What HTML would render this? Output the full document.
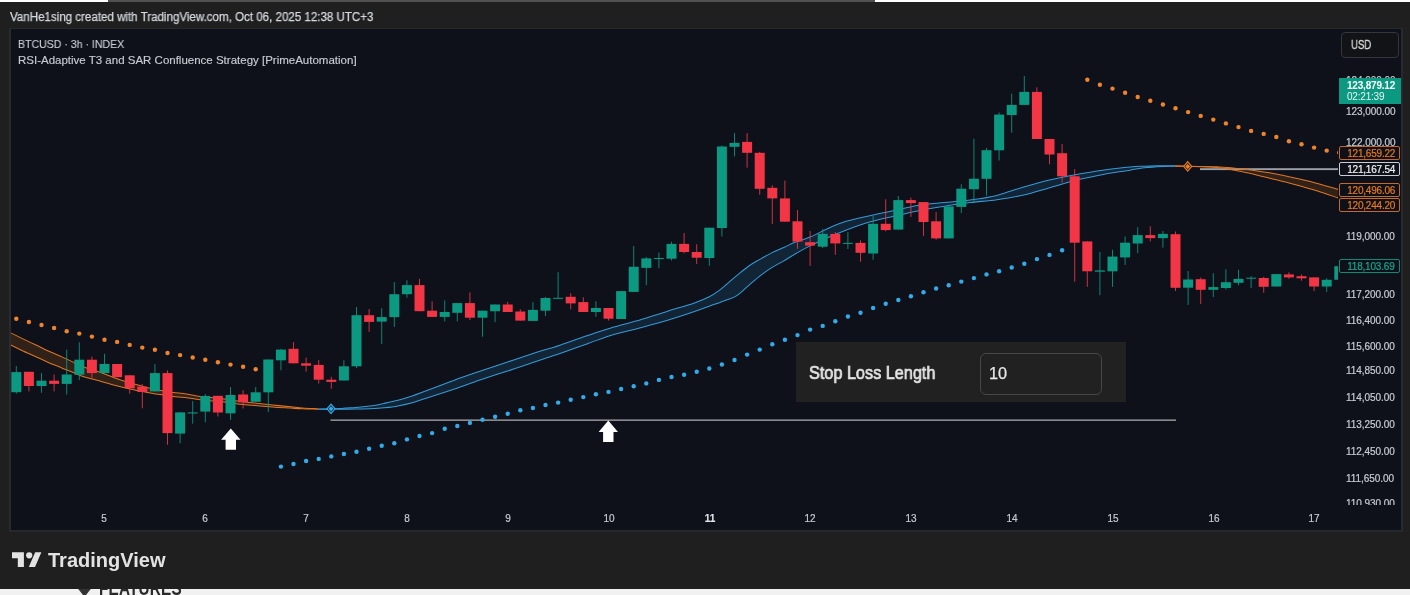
<!DOCTYPE html>
<html><head><meta charset="utf-8"><title>chart</title>
<style>
html,body{margin:0;padding:0;}
body{width:1410px;height:595px;overflow:hidden;background:#1f1f1f;position:relative;font-family:"Liberation Sans",sans-serif;}
.abs{position:absolute;}
#hdr,.lg,.pl,.dl,.box,#cur b,#cur i,#sl .t,#sl .in span,#tvt,#feat{will-change:transform;}
#topw1{left:0;top:0;width:108px;height:2px;background:#fff;}
#topg{left:108px;top:0;width:767px;height:2px;background:#505050;}
#topw2{left:875px;top:0;width:535px;height:2px;background:#fff;}
#hdr{left:10px;top:9.2px;font-size:12px;line-height:16px;color:#d6d8de;-webkit-text-stroke:0.25px #d6d8de;white-space:nowrap;transform-origin:0 50%;transform:scaleX(0.963);}
#chart{left:9px;top:28px;width:1390px;height:501px;background:#0e111a;border-right:2px solid #27292d;border-bottom:2px solid #26282c;border-top:1px solid #27292e;border-left:2px solid #292b2e;box-sizing:content-box;overflow:hidden;}
#plot{left:0;top:0;width:1338px;height:595px;overflow:hidden;}
.lg{left:18px;font-size:11.5px;line-height:14px;color:#c8cbd2;-webkit-text-stroke:0.15px #c8cbd2;white-space:nowrap;transform-origin:0 50%;}
.pl{position:absolute;left:1346.2px;width:48px;font-size:10px;line-height:12px;color:#c8cbd2;white-space:nowrap;letter-spacing:-0.05px;-webkit-text-stroke:0.2px #c8cbd2;}
.dl{position:absolute;top:513px;-webkit-text-stroke:0.2px #c8cbd2;width:40px;text-align:center;font-size:10px;line-height:12px;color:#c5c8d0;}
.dl.b{font-weight:bold;color:#e4e6ea;}
.box{position:absolute;left:1339px;width:60px;height:11.4px;padding-top:1.1px;border:1px solid;font-size:10px;line-height:12.7px;letter-spacing:-0.2px;padding-left:7.2px;box-sizing:content-box;width:51.4px;border-radius:2px;-webkit-text-stroke:0.2px;background:#0e111a;white-space:nowrap;}
#usd{left:1341.3px;top:32px;width:55.7px;height:23.5px;border:1px solid #33363d;border-radius:4px;background:#121316;color:#dadada;font-size:12px;line-height:24px;box-sizing:content-box;-webkit-text-stroke:0.3px #dadada;}
#usd span{position:absolute;left:8.9px;top:-0.3px;transform-origin:0 50%;transform:scaleX(0.80);will-change:transform;}
#cur{left:1339px;top:78px;width:61.5px;height:26.4px;background:#0b9981;color:#fff;font-size:10px;letter-spacing:-0.2px;}
#cur b{position:absolute;left:7.5px;top:1.9px;line-height:12px;}
#cur i{position:absolute;left:7.5px;top:13.3px;line-height:12px;font-style:normal;color:#e9f6f3;}
#sl{left:796px;top:341.5px;width:330px;height:60px;background:#212121;}
#sl .t{position:absolute;left:12.7px;top:21.6px;font-size:18.3px;line-height:20px;color:#e4e4e4;-webkit-text-stroke:0.7px #e4e4e4;white-space:nowrap;transform-origin:0 50%;transform:scaleX(0.888);}
#sl .in{position:absolute;left:184px;top:11.4px;width:120px;height:40px;border:1px solid #474747;border-radius:6px;box-sizing:content-box;}
#sl .in span{position:absolute;left:8.4px;top:9.6px;font-size:16.3px;line-height:20px;color:#e6e6e6;-webkit-text-stroke:0.25px #e6e6e6;}
#foot{left:0;top:532px;width:1410px;height:56.5px;background:#1f1f1f;}
#strip{left:0;top:588.5px;width:1410px;height:7px;background:#f1f1f1;overflow:hidden;}
#feat{letter-spacing:0.2px;left:99px;top:-7.7px;transform:scaleY(1.35);transform-origin:0 14.3px;font-size:15.3px;line-height:18px;font-weight:bold;color:#2a2a2a;white-space:nowrap;}
#tvt{left:48px;top:547.5px;font-size:20px;line-height:24px;font-weight:bold;color:#e3e3e3;white-space:nowrap;transform-origin:0 50%;}
</style></head><body>
<div class="abs" id="chart"></div>
<div class="abs" id="plot"><svg width="1338" height="595" viewBox="0 0 1338 595" style="position:absolute;left:0;top:0">
<defs><clipPath id="cp"><rect x="11" y="29" width="1327" height="476"/></clipPath></defs>
<g clip-path="url(#cp)">
<rect x="330.5" y="419.55" width="845.5" height="1.15" fill="#bcbcbf"/>
<rect x="1200" y="168.2" width="138.5" height="1.9" fill="#9d9fa8"/>
<path d="M10.0,332.5 C11.9,333.4 17.2,336.1 21.4,338.1 C25.5,340.1 30.4,342.4 34.9,344.5 C39.4,346.6 43.8,349.0 48.3,351.1 C52.8,353.1 57.8,355.0 61.8,356.9 C65.8,358.7 68.8,360.1 72.6,361.9 C76.4,363.6 79.8,365.4 84.7,367.3 C89.6,369.2 96.9,371.3 102.1,373.1 C107.2,374.9 111.1,376.6 115.6,378.2 C120.1,379.8 124.5,381.2 129.0,382.6 C133.5,383.9 138.0,385.2 142.5,386.4 C147.0,387.6 151.4,388.6 155.9,389.5 C160.4,390.4 164.0,391.3 169.4,392.1 C174.8,392.8 183.0,393.5 188.1,394.2 C193.2,395.0 194.1,395.7 200.1,396.5 C206.1,397.3 218.1,398.2 224.3,399.0 C230.5,399.8 232.5,400.5 237.5,401.1 C242.5,401.8 248.6,402.5 254.4,403.1 C260.2,403.7 266.5,404.4 272.5,405.0 C278.5,405.6 285.6,406.2 290.6,406.7 C295.6,407.2 298.0,407.6 302.6,407.9 C307.2,408.3 315.7,408.7 318.3,408.9 L318.3,409.2 C315.7,409.1 307.2,409.0 302.6,408.8 C298.0,408.6 295.6,408.4 290.6,408.1 C285.6,407.8 278.5,407.5 272.5,407.0 C266.5,406.6 260.2,406.1 254.4,405.5 C248.6,405.0 242.5,404.5 237.5,403.9 C232.5,403.3 230.5,402.6 224.3,402.0 C218.1,401.3 206.1,400.4 200.1,399.8 C194.1,399.1 193.2,398.5 188.1,397.9 C183.0,397.2 174.8,396.7 169.4,396.0 C164.0,395.3 160.4,394.6 155.9,393.9 C151.4,393.1 147.0,392.4 142.5,391.5 C138.0,390.6 133.5,389.7 129.0,388.7 C124.5,387.7 120.1,386.7 115.6,385.5 C111.1,384.3 107.2,383.1 102.1,381.7 C96.9,380.2 89.6,378.5 84.7,377.0 C79.8,375.4 76.4,373.8 72.6,372.3 C68.8,370.8 65.8,369.5 61.8,367.9 C57.8,366.2 52.8,364.4 48.3,362.5 C43.8,360.5 39.4,358.3 34.9,356.2 C30.4,354.2 25.5,352.1 21.4,350.2 C17.2,348.2 11.9,345.5 10.0,344.6 Z" fill="rgba(232,119,26,0.16)" stroke="none"/>
<path d="M10.0,332.5 C11.9,333.4 17.2,336.1 21.4,338.1 C25.5,340.1 30.4,342.4 34.9,344.5 C39.4,346.6 43.8,349.0 48.3,351.1 C52.8,353.1 57.8,355.0 61.8,356.9 C65.8,358.7 68.8,360.1 72.6,361.9 C76.4,363.6 79.8,365.4 84.7,367.3 C89.6,369.2 96.9,371.3 102.1,373.1 C107.2,374.9 111.1,376.6 115.6,378.2 C120.1,379.8 124.5,381.2 129.0,382.6 C133.5,383.9 138.0,385.2 142.5,386.4 C147.0,387.6 151.4,388.6 155.9,389.5 C160.4,390.4 164.0,391.3 169.4,392.1 C174.8,392.8 183.0,393.5 188.1,394.2 C193.2,395.0 194.1,395.7 200.1,396.5 C206.1,397.3 218.1,398.2 224.3,399.0 C230.5,399.8 232.5,400.5 237.5,401.1 C242.5,401.8 248.6,402.5 254.4,403.1 C260.2,403.7 266.5,404.4 272.5,405.0 C278.5,405.6 285.6,406.2 290.6,406.7 C295.6,407.2 298.0,407.6 302.6,407.9 C307.2,408.3 315.7,408.7 318.3,408.9" fill="none" stroke="#e07623" stroke-width="1.05"/>
<path d="M10.0,344.6 C11.9,345.5 17.2,348.2 21.4,350.2 C25.5,352.1 30.4,354.2 34.9,356.2 C39.4,358.3 43.8,360.5 48.3,362.5 C52.8,364.4 57.8,366.2 61.8,367.9 C65.8,369.5 68.8,370.8 72.6,372.3 C76.4,373.8 79.8,375.4 84.7,377.0 C89.6,378.5 96.9,380.2 102.1,381.7 C107.2,383.1 111.1,384.3 115.6,385.5 C120.1,386.7 124.5,387.7 129.0,388.7 C133.5,389.7 138.0,390.6 142.5,391.5 C147.0,392.4 151.4,393.1 155.9,393.9 C160.4,394.6 164.0,395.3 169.4,396.0 C174.8,396.7 183.0,397.2 188.1,397.9 C193.2,398.5 194.1,399.1 200.1,399.8 C206.1,400.4 218.1,401.3 224.3,402.0 C230.5,402.6 232.5,403.3 237.5,403.9 C242.5,404.5 248.6,405.0 254.4,405.5 C260.2,406.1 266.5,406.6 272.5,407.0 C278.5,407.5 285.6,407.8 290.6,408.1 C295.6,408.4 298.0,408.6 302.6,408.8 C307.2,409.0 315.7,409.1 318.3,409.2" fill="none" stroke="#e07623" stroke-width="1.05"/>

<path d="M318.3,408.9 C321.1,408.9 328.8,409.0 335.0,408.8 C341.2,408.6 349.7,407.9 355.5,407.5 C361.3,407.1 364.9,406.8 369.6,406.1 C374.3,405.4 379.1,404.4 383.8,403.4 C388.5,402.4 393.3,401.4 398.0,400.2 C402.7,399.0 407.4,397.6 412.2,396.0 C417.0,394.4 420.0,393.1 426.9,390.5 C433.8,387.9 444.8,383.6 453.8,380.4 C462.8,377.1 471.7,374.1 480.7,371.0 C489.7,367.9 498.6,365.0 507.6,362.0 C516.6,359.0 525.8,355.9 534.5,353.1 C543.2,350.3 551.3,348.1 560.0,345.2 C568.7,342.3 577.9,338.8 586.9,335.8 C595.9,332.8 604.8,329.8 613.8,327.1 C622.8,324.4 631.7,322.4 640.7,319.7 C649.7,317.0 658.6,314.0 667.6,311.2 C676.6,308.4 687.6,305.3 694.5,302.9 C701.4,300.5 705.0,299.0 709.2,296.8 C713.5,294.6 717.4,291.7 720.0,289.8 C722.6,287.9 722.2,288.0 725.0,285.6 C727.8,283.2 732.9,278.8 736.8,275.6 C740.7,272.4 744.6,268.9 748.5,266.2 C752.4,263.4 756.4,261.4 760.3,259.1 C764.2,256.8 768.2,254.6 772.1,252.6 C776.0,250.6 779.9,249.2 783.8,247.4 C787.7,245.7 791.2,243.8 795.6,242.1 C800.0,240.4 803.1,240.0 810.0,237.1 C816.9,234.2 827.9,227.8 836.9,224.4 C845.9,221.1 854.8,219.2 863.8,217.0 C872.8,214.8 881.7,213.1 890.7,211.2 C899.7,209.3 908.6,206.9 917.6,205.5 C926.6,204.1 935.8,203.5 944.5,202.6 C953.2,201.7 961.3,201.2 970.0,200.0 C978.7,198.8 987.9,197.6 996.9,195.4 C1005.9,193.2 1014.8,189.6 1023.8,187.0 C1032.8,184.4 1041.7,181.9 1050.7,179.8 C1059.7,177.7 1068.6,175.8 1077.6,174.2 C1086.6,172.5 1095.8,171.1 1104.5,169.9 C1113.2,168.7 1123.4,167.5 1130.0,166.9 C1136.6,166.3 1138.9,166.4 1144.3,166.2 C1149.7,166.0 1157.2,165.9 1162.3,165.8 C1167.4,165.7 1172.9,165.8 1175.0,165.8 L1175.0,166.2 C1172.9,166.2 1167.4,166.1 1162.3,166.4 C1157.2,166.7 1149.7,167.2 1144.3,167.8 C1138.9,168.4 1136.6,169.1 1130.0,170.2 C1123.4,171.3 1113.2,172.6 1104.5,174.2 C1095.8,175.8 1086.6,177.6 1077.6,179.8 C1068.6,182.0 1059.7,184.9 1050.7,187.4 C1041.7,189.9 1032.8,192.9 1023.8,195.0 C1014.8,197.1 1005.9,198.4 996.9,199.7 C987.9,201.0 978.7,201.5 970.0,202.6 C961.3,203.7 953.2,204.8 944.5,206.2 C935.8,207.6 926.6,209.1 917.6,210.9 C908.6,212.7 899.7,214.9 890.7,217.0 C881.7,219.1 872.8,220.9 863.8,223.7 C854.8,226.5 845.9,230.1 836.9,233.8 C827.9,237.5 816.9,242.6 810.0,245.9 C803.1,249.2 800.0,251.3 795.6,253.8 C791.2,256.3 787.7,258.6 783.8,260.9 C779.9,263.2 776.0,264.9 772.1,267.4 C768.2,269.8 764.2,272.6 760.3,275.6 C756.4,278.6 752.4,282.3 748.5,285.6 C744.6,288.9 740.4,293.2 736.8,295.6 C733.2,298.0 729.8,298.7 727.0,299.8 C724.2,300.9 722.7,301.4 720.0,302.4 C717.3,303.4 715.2,304.1 711.0,305.6 C706.8,307.1 701.7,309.2 694.5,311.6 C687.3,314.1 676.6,317.6 667.6,320.3 C658.6,323.0 649.7,325.3 640.7,327.7 C631.7,330.1 622.8,331.8 613.8,334.5 C604.8,337.2 595.9,340.8 586.9,343.9 C577.9,347.0 568.7,350.4 560.0,353.4 C551.3,356.4 543.2,359.1 534.5,362.0 C525.8,364.9 516.6,368.1 507.6,371.0 C498.6,373.9 489.7,376.7 480.7,379.7 C471.7,382.7 462.8,386.2 453.8,389.2 C444.8,392.2 433.8,395.6 426.9,397.9 C420.0,400.1 417.0,401.4 412.2,402.7 C407.4,404.0 402.7,405.0 398.0,405.9 C393.3,406.8 388.5,407.3 383.8,407.8 C379.1,408.3 374.3,408.5 369.6,408.7 C364.9,408.9 361.3,409.0 355.5,409.1 C349.7,409.2 341.2,409.1 335.0,409.1 C328.8,409.1 321.1,409.2 318.3,409.2 Z" fill="rgba(47,155,220,0.15)" stroke="none"/>
<path d="M318.3,408.9 C321.1,408.9 328.8,409.0 335.0,408.8 C341.2,408.6 349.7,407.9 355.5,407.5 C361.3,407.1 364.9,406.8 369.6,406.1 C374.3,405.4 379.1,404.4 383.8,403.4 C388.5,402.4 393.3,401.4 398.0,400.2 C402.7,399.0 407.4,397.6 412.2,396.0 C417.0,394.4 420.0,393.1 426.9,390.5 C433.8,387.9 444.8,383.6 453.8,380.4 C462.8,377.1 471.7,374.1 480.7,371.0 C489.7,367.9 498.6,365.0 507.6,362.0 C516.6,359.0 525.8,355.9 534.5,353.1 C543.2,350.3 551.3,348.1 560.0,345.2 C568.7,342.3 577.9,338.8 586.9,335.8 C595.9,332.8 604.8,329.8 613.8,327.1 C622.8,324.4 631.7,322.4 640.7,319.7 C649.7,317.0 658.6,314.0 667.6,311.2 C676.6,308.4 687.6,305.3 694.5,302.9 C701.4,300.5 705.0,299.0 709.2,296.8 C713.5,294.6 717.4,291.7 720.0,289.8 C722.6,287.9 722.2,288.0 725.0,285.6 C727.8,283.2 732.9,278.8 736.8,275.6 C740.7,272.4 744.6,268.9 748.5,266.2 C752.4,263.4 756.4,261.4 760.3,259.1 C764.2,256.8 768.2,254.6 772.1,252.6 C776.0,250.6 779.9,249.2 783.8,247.4 C787.7,245.7 791.2,243.8 795.6,242.1 C800.0,240.4 803.1,240.0 810.0,237.1 C816.9,234.2 827.9,227.8 836.9,224.4 C845.9,221.1 854.8,219.2 863.8,217.0 C872.8,214.8 881.7,213.1 890.7,211.2 C899.7,209.3 908.6,206.9 917.6,205.5 C926.6,204.1 935.8,203.5 944.5,202.6 C953.2,201.7 961.3,201.2 970.0,200.0 C978.7,198.8 987.9,197.6 996.9,195.4 C1005.9,193.2 1014.8,189.6 1023.8,187.0 C1032.8,184.4 1041.7,181.9 1050.7,179.8 C1059.7,177.7 1068.6,175.8 1077.6,174.2 C1086.6,172.5 1095.8,171.1 1104.5,169.9 C1113.2,168.7 1123.4,167.5 1130.0,166.9 C1136.6,166.3 1138.9,166.4 1144.3,166.2 C1149.7,166.0 1157.2,165.9 1162.3,165.8 C1167.4,165.7 1172.9,165.8 1175.0,165.8" fill="none" stroke="#369ad6" stroke-width="1.05"/>
<path d="M318.3,409.2 C321.1,409.2 328.8,409.1 335.0,409.1 C341.2,409.1 349.7,409.2 355.5,409.1 C361.3,409.0 364.9,408.9 369.6,408.7 C374.3,408.5 379.1,408.3 383.8,407.8 C388.5,407.3 393.3,406.8 398.0,405.9 C402.7,405.0 407.4,404.0 412.2,402.7 C417.0,401.4 420.0,400.1 426.9,397.9 C433.8,395.6 444.8,392.2 453.8,389.2 C462.8,386.2 471.7,382.7 480.7,379.7 C489.7,376.7 498.6,373.9 507.6,371.0 C516.6,368.1 525.8,364.9 534.5,362.0 C543.2,359.1 551.3,356.4 560.0,353.4 C568.7,350.4 577.9,347.0 586.9,343.9 C595.9,340.8 604.8,337.2 613.8,334.5 C622.8,331.8 631.7,330.1 640.7,327.7 C649.7,325.3 658.6,323.0 667.6,320.3 C676.6,317.6 687.3,314.1 694.5,311.6 C701.7,309.2 706.8,307.1 711.0,305.6 C715.2,304.1 717.3,303.4 720.0,302.4 C722.7,301.4 724.2,300.9 727.0,299.8 C729.8,298.7 733.2,298.0 736.8,295.6 C740.4,293.2 744.6,288.9 748.5,285.6 C752.4,282.3 756.4,278.6 760.3,275.6 C764.2,272.6 768.2,269.8 772.1,267.4 C776.0,264.9 779.9,263.2 783.8,260.9 C787.7,258.6 791.2,256.3 795.6,253.8 C800.0,251.3 803.1,249.2 810.0,245.9 C816.9,242.6 827.9,237.5 836.9,233.8 C845.9,230.1 854.8,226.5 863.8,223.7 C872.8,220.9 881.7,219.1 890.7,217.0 C899.7,214.9 908.6,212.7 917.6,210.9 C926.6,209.1 935.8,207.6 944.5,206.2 C953.2,204.8 961.3,203.7 970.0,202.6 C978.7,201.5 987.9,201.0 996.9,199.7 C1005.9,198.4 1014.8,197.1 1023.8,195.0 C1032.8,192.9 1041.7,189.9 1050.7,187.4 C1059.7,184.9 1068.6,182.0 1077.6,179.8 C1086.6,177.6 1095.8,175.8 1104.5,174.2 C1113.2,172.6 1123.4,171.3 1130.0,170.2 C1136.6,169.1 1138.9,168.4 1144.3,167.8 C1149.7,167.2 1157.2,166.7 1162.3,166.4 C1167.4,166.1 1172.9,166.2 1175.0,166.2" fill="none" stroke="#369ad6" stroke-width="1.05"/>

<path d="M1175.0,165.8 C1177.1,165.9 1180.8,166.2 1187.7,166.3 C1194.6,166.5 1208.8,166.4 1216.6,166.7 C1224.4,167.0 1228.7,167.6 1234.7,168.2 C1240.7,168.8 1246.8,169.5 1252.8,170.3 C1258.8,171.1 1264.9,171.9 1270.9,173.0 C1276.9,174.1 1283.0,175.4 1289.0,176.7 C1295.0,178.0 1301.0,179.3 1307.0,180.8 C1313.0,182.3 1319.9,184.3 1325.1,185.7 C1330.3,187.1 1335.8,188.8 1338.0,189.4 L1338.0,197.9 C1335.8,197.2 1330.3,195.2 1325.1,193.5 C1319.9,191.8 1313.0,189.8 1307.0,188.0 C1301.0,186.2 1295.0,184.6 1289.0,183.0 C1283.0,181.4 1276.9,180.0 1270.9,178.5 C1264.9,177.0 1258.8,175.3 1252.8,173.9 C1246.8,172.5 1240.7,171.4 1234.7,170.3 C1228.7,169.2 1224.4,168.1 1216.6,167.4 C1208.8,166.7 1194.6,166.5 1187.7,166.3 C1180.8,166.1 1177.1,166.2 1175.0,166.2 Z" fill="rgba(232,119,26,0.16)" stroke="none"/>
<path d="M1175.0,165.8 C1177.1,165.9 1180.8,166.2 1187.7,166.3 C1194.6,166.5 1208.8,166.4 1216.6,166.7 C1224.4,167.0 1228.7,167.6 1234.7,168.2 C1240.7,168.8 1246.8,169.5 1252.8,170.3 C1258.8,171.1 1264.9,171.9 1270.9,173.0 C1276.9,174.1 1283.0,175.4 1289.0,176.7 C1295.0,178.0 1301.0,179.3 1307.0,180.8 C1313.0,182.3 1319.9,184.3 1325.1,185.7 C1330.3,187.1 1335.8,188.8 1338.0,189.4" fill="none" stroke="#e07623" stroke-width="1.05"/>
<path d="M1175.0,166.2 C1177.1,166.2 1180.8,166.1 1187.7,166.3 C1194.6,166.5 1208.8,166.7 1216.6,167.4 C1224.4,168.1 1228.7,169.2 1234.7,170.3 C1240.7,171.4 1246.8,172.5 1252.8,173.9 C1258.8,175.3 1264.9,177.0 1270.9,178.5 C1276.9,180.0 1283.0,181.4 1289.0,183.0 C1295.0,184.6 1301.0,186.2 1307.0,188.0 C1313.0,189.8 1319.9,191.8 1325.1,193.5 C1330.3,195.2 1335.8,197.2 1338.0,197.9" fill="none" stroke="#e07623" stroke-width="1.05"/>

<rect x="15.8" y="366.1" width="1" height="27.5" fill="#0b9981" opacity="0.85"/>
<rect x="11.3" y="372.1" width="10.0" height="20.1" fill="#0b9981"/>
<rect x="28.4" y="371.8" width="1" height="19.6" fill="#f23645" opacity="0.85"/>
<rect x="23.9" y="371.8" width="10.0" height="14.2" fill="#f23645"/>
<rect x="41.0" y="373.1" width="1" height="19.7" fill="#0b9981" opacity="0.85"/>
<rect x="36.5" y="380.7" width="10.0" height="5.3" fill="#0b9981"/>
<rect x="53.6" y="374.5" width="1" height="16.9" fill="#f23645" opacity="0.85"/>
<rect x="49.1" y="380.7" width="10.0" height="3.2" fill="#f23645"/>
<rect x="66.2" y="349.7" width="1" height="44.9" fill="#0b9981" opacity="0.85"/>
<rect x="61.7" y="374.5" width="10.0" height="9.4" fill="#0b9981"/>
<rect x="78.8" y="342.2" width="1" height="37.9" fill="#0b9981" opacity="0.85"/>
<rect x="74.3" y="359.7" width="10.0" height="15.0" fill="#0b9981"/>
<rect x="91.4" y="356.5" width="1" height="21.5" fill="#f23645" opacity="0.85"/>
<rect x="86.9" y="359.7" width="10.0" height="13.4" fill="#f23645"/>
<rect x="104.0" y="353.8" width="1" height="19.3" fill="#0b9981" opacity="0.85"/>
<rect x="99.5" y="364.0" width="10.0" height="9.1" fill="#0b9981"/>
<rect x="116.6" y="364.0" width="1" height="13.2" fill="#f23645" opacity="0.85"/>
<rect x="112.1" y="364.0" width="10.0" height="13.2" fill="#f23645"/>
<rect x="129.2" y="375.3" width="1" height="18.3" fill="#f23645" opacity="0.85"/>
<rect x="124.7" y="375.3" width="10.0" height="12.9" fill="#f23645"/>
<rect x="141.8" y="383.9" width="1" height="24.5" fill="#f23645" opacity="0.85"/>
<rect x="137.3" y="386.6" width="10.0" height="5.4" fill="#f23645"/>
<rect x="154.4" y="364.0" width="1" height="27.4" fill="#0b9981" opacity="0.85"/>
<rect x="149.9" y="373.1" width="10.0" height="18.3" fill="#0b9981"/>
<rect x="167.0" y="370.4" width="1" height="74.3" fill="#f23645" opacity="0.85"/>
<rect x="162.5" y="373.1" width="10.0" height="60.0" fill="#f23645"/>
<rect x="179.6" y="412.4" width="1" height="30.9" fill="#0b9981" opacity="0.85"/>
<rect x="175.1" y="412.4" width="10.0" height="21.2" fill="#0b9981"/>
<rect x="192.2" y="401.1" width="1" height="22.6" fill="#0b9981" opacity="0.85"/>
<rect x="187.7" y="412.4" width="10.0" height="1.1" fill="#0b9981"/>
<rect x="204.8" y="394.0" width="1" height="28.3" fill="#0b9981" opacity="0.85"/>
<rect x="200.3" y="396.0" width="10.0" height="15.6" fill="#0b9981"/>
<rect x="217.4" y="395.8" width="1" height="20.7" fill="#f23645" opacity="0.85"/>
<rect x="212.9" y="395.8" width="10.0" height="16.7" fill="#f23645"/>
<rect x="230.0" y="387.0" width="1" height="32.8" fill="#0b9981" opacity="0.85"/>
<rect x="225.5" y="395.0" width="10.0" height="18.3" fill="#0b9981"/>
<rect x="242.6" y="390.2" width="1" height="18.3" fill="#f23645" opacity="0.85"/>
<rect x="238.1" y="394.5" width="10.0" height="7.8" fill="#f23645"/>
<rect x="255.2" y="387.0" width="1" height="14.8" fill="#0b9981" opacity="0.85"/>
<rect x="250.7" y="392.3" width="10.0" height="9.5" fill="#0b9981"/>
<rect x="267.8" y="359.5" width="1" height="52.5" fill="#0b9981" opacity="0.85"/>
<rect x="263.3" y="359.5" width="10.0" height="32.8" fill="#0b9981"/>
<rect x="280.4" y="348.8" width="1" height="21.5" fill="#0b9981" opacity="0.85"/>
<rect x="275.9" y="349.6" width="10.0" height="10.7" fill="#0b9981"/>
<rect x="293.0" y="342.1" width="1" height="21.2" fill="#f23645" opacity="0.85"/>
<rect x="288.5" y="348.8" width="10.0" height="14.5" fill="#f23645"/>
<rect x="305.6" y="357.7" width="1" height="13.9" fill="#f23645" opacity="0.85"/>
<rect x="301.1" y="363.3" width="10.0" height="2.4" fill="#f23645"/>
<rect x="318.2" y="360.1" width="1" height="23.4" fill="#f23645" opacity="0.85"/>
<rect x="313.7" y="364.9" width="10.0" height="14.8" fill="#f23645"/>
<rect x="330.8" y="376.7" width="1" height="12.1" fill="#f23645" opacity="0.85"/>
<rect x="326.3" y="379.7" width="10.0" height="2.2" fill="#f23645"/>
<rect x="343.4" y="360.1" width="1" height="20.4" fill="#0b9981" opacity="0.85"/>
<rect x="338.9" y="366.3" width="10.0" height="14.2" fill="#0b9981"/>
<rect x="356.0" y="307.1" width="1" height="61.0" fill="#0b9981" opacity="0.85"/>
<rect x="351.5" y="315.2" width="10.0" height="51.1" fill="#0b9981"/>
<rect x="368.6" y="309.0" width="1" height="22.8" fill="#f23645" opacity="0.85"/>
<rect x="364.1" y="315.2" width="10.0" height="6.7" fill="#f23645"/>
<rect x="381.2" y="308.2" width="1" height="35.7" fill="#0b9981" opacity="0.85"/>
<rect x="376.7" y="317.1" width="10.0" height="4.5" fill="#0b9981"/>
<rect x="393.8" y="282.1" width="1" height="44.9" fill="#0b9981" opacity="0.85"/>
<rect x="389.3" y="294.2" width="10.0" height="22.9" fill="#0b9981"/>
<rect x="406.4" y="280.2" width="1" height="17.5" fill="#0b9981" opacity="0.85"/>
<rect x="401.9" y="285.1" width="10.0" height="9.1" fill="#0b9981"/>
<rect x="419.0" y="278.9" width="1" height="32.3" fill="#f23645" opacity="0.85"/>
<rect x="414.5" y="285.1" width="10.0" height="26.1" fill="#f23645"/>
<rect x="431.6" y="301.3" width="1" height="15.6" fill="#f23645" opacity="0.85"/>
<rect x="427.1" y="310.7" width="10.0" height="6.2" fill="#f23645"/>
<rect x="444.2" y="300.4" width="1" height="21.0" fill="#0b9981" opacity="0.85"/>
<rect x="439.7" y="312.0" width="10.0" height="4.9" fill="#0b9981"/>
<rect x="456.8" y="303.1" width="1" height="18.3" fill="#0b9981" opacity="0.85"/>
<rect x="452.3" y="303.1" width="10.0" height="9.7" fill="#0b9981"/>
<rect x="469.4" y="292.4" width="1" height="27.6" fill="#f23645" opacity="0.85"/>
<rect x="464.9" y="303.1" width="10.0" height="14.6" fill="#f23645"/>
<rect x="482.0" y="310.7" width="1" height="26.0" fill="#0b9981" opacity="0.85"/>
<rect x="477.5" y="310.7" width="10.0" height="7.0" fill="#0b9981"/>
<rect x="494.6" y="304.5" width="1" height="17.7" fill="#0b9981" opacity="0.85"/>
<rect x="490.1" y="304.5" width="10.0" height="6.7" fill="#0b9981"/>
<rect x="507.2" y="301.8" width="1" height="10.2" fill="#f23645" opacity="0.85"/>
<rect x="502.7" y="304.5" width="10.0" height="7.5" fill="#f23645"/>
<rect x="519.8" y="309.3" width="1" height="11.3" fill="#f23645" opacity="0.85"/>
<rect x="515.3" y="311.5" width="10.0" height="9.1" fill="#f23645"/>
<rect x="532.4" y="302.1" width="1" height="18.8" fill="#0b9981" opacity="0.85"/>
<rect x="527.9" y="309.9" width="10.0" height="11.0" fill="#0b9981"/>
<rect x="545.0" y="297.0" width="1" height="19.0" fill="#0b9981" opacity="0.85"/>
<rect x="540.5" y="298.0" width="10.0" height="12.7" fill="#0b9981"/>
<rect x="557.6" y="272.2" width="1" height="26.6" fill="#0b9981" opacity="0.85"/>
<rect x="553.1" y="297.8" width="10.0" height="1.0" fill="#0b9981"/>
<rect x="570.2" y="293.2" width="1" height="16.1" fill="#f23645" opacity="0.85"/>
<rect x="565.7" y="296.8" width="10.0" height="6.6" fill="#f23645"/>
<rect x="582.8" y="297.2" width="1" height="14.8" fill="#f23645" opacity="0.85"/>
<rect x="578.3" y="302.1" width="10.0" height="9.9" fill="#f23645"/>
<rect x="595.4" y="301.3" width="1" height="15.6" fill="#0b9981" opacity="0.85"/>
<rect x="590.9" y="308.0" width="10.0" height="4.0" fill="#0b9981"/>
<rect x="608.0" y="308.0" width="1" height="12.6" fill="#f23645" opacity="0.85"/>
<rect x="603.5" y="308.0" width="10.0" height="10.7" fill="#f23645"/>
<rect x="620.6" y="291.1" width="1" height="27.9" fill="#0b9981" opacity="0.85"/>
<rect x="616.1" y="291.1" width="10.0" height="27.9" fill="#0b9981"/>
<rect x="633.2" y="246.0" width="1" height="45.9" fill="#0b9981" opacity="0.85"/>
<rect x="628.7" y="266.8" width="10.0" height="25.1" fill="#0b9981"/>
<rect x="645.8" y="257.0" width="1" height="28.2" fill="#0b9981" opacity="0.85"/>
<rect x="641.3" y="258.4" width="10.0" height="9.5" fill="#0b9981"/>
<rect x="658.4" y="252.7" width="1" height="15.5" fill="#0b9981" opacity="0.85"/>
<rect x="653.9" y="258.0" width="10.0" height="1.0" fill="#0b9981"/>
<rect x="671.0" y="241.8" width="1" height="18.7" fill="#0b9981" opacity="0.85"/>
<rect x="666.5" y="243.9" width="10.0" height="14.8" fill="#0b9981"/>
<rect x="683.6" y="233.0" width="1" height="20.4" fill="#f23645" opacity="0.85"/>
<rect x="679.1" y="243.9" width="10.0" height="8.1" fill="#f23645"/>
<rect x="696.2" y="244.2" width="1" height="19.8" fill="#f23645" opacity="0.85"/>
<rect x="691.7" y="252.0" width="10.0" height="5.7" fill="#f23645"/>
<rect x="708.8" y="227.7" width="1" height="38.1" fill="#0b9981" opacity="0.85"/>
<rect x="704.3" y="227.7" width="10.0" height="30.3" fill="#0b9981"/>
<rect x="721.4" y="145.5" width="1" height="91.0" fill="#0b9981" opacity="0.85"/>
<rect x="716.9" y="146.5" width="10.0" height="81.5" fill="#0b9981"/>
<rect x="734.0" y="133.1" width="1" height="23.3" fill="#0b9981" opacity="0.85"/>
<rect x="729.5" y="142.9" width="10.0" height="3.9" fill="#0b9981"/>
<rect x="746.6" y="133.1" width="1" height="34.6" fill="#f23645" opacity="0.85"/>
<rect x="742.1" y="141.9" width="10.0" height="10.9" fill="#f23645"/>
<rect x="759.2" y="151.8" width="1" height="43.0" fill="#f23645" opacity="0.85"/>
<rect x="754.7" y="152.8" width="10.0" height="36.0" fill="#f23645"/>
<rect x="771.8" y="185.3" width="1" height="38.8" fill="#f23645" opacity="0.85"/>
<rect x="767.3" y="187.8" width="10.0" height="10.6" fill="#f23645"/>
<rect x="784.4" y="180.7" width="1" height="41.0" fill="#f23645" opacity="0.85"/>
<rect x="779.9" y="198.4" width="10.0" height="23.3" fill="#f23645"/>
<rect x="797.0" y="210.0" width="1" height="38.8" fill="#f23645" opacity="0.85"/>
<rect x="792.5" y="221.3" width="10.0" height="20.3" fill="#f23645"/>
<rect x="809.6" y="231.0" width="1" height="35.0" fill="#f23645" opacity="0.85"/>
<rect x="805.1" y="242.2" width="10.0" height="3.4" fill="#f23645"/>
<rect x="822.2" y="228.8" width="1" height="19.2" fill="#0b9981" opacity="0.85"/>
<rect x="817.7" y="233.9" width="10.0" height="12.8" fill="#0b9981"/>
<rect x="834.8" y="232.0" width="1" height="22.8" fill="#f23645" opacity="0.85"/>
<rect x="830.3" y="233.9" width="10.0" height="9.5" fill="#f23645"/>
<rect x="847.4" y="232.1" width="1" height="16.9" fill="#0b9981" opacity="0.85"/>
<rect x="842.9" y="242.9" width="10.0" height="1.0" fill="#0b9981"/>
<rect x="860.0" y="240.4" width="1" height="21.4" fill="#f23645" opacity="0.85"/>
<rect x="855.5" y="242.9" width="10.0" height="9.9" fill="#f23645"/>
<rect x="872.6" y="215.7" width="1" height="44.1" fill="#0b9981" opacity="0.85"/>
<rect x="868.1" y="223.8" width="10.0" height="29.7" fill="#0b9981"/>
<rect x="885.2" y="199.3" width="1" height="32.0" fill="#f23645" opacity="0.85"/>
<rect x="880.7" y="223.8" width="10.0" height="6.3" fill="#f23645"/>
<rect x="897.8" y="196.0" width="1" height="33.6" fill="#0b9981" opacity="0.85"/>
<rect x="893.3" y="200.1" width="10.0" height="29.5" fill="#0b9981"/>
<rect x="910.4" y="197.6" width="1" height="19.4" fill="#f23645" opacity="0.85"/>
<rect x="905.9" y="200.1" width="10.0" height="3.0" fill="#f23645"/>
<rect x="923.0" y="202.1" width="1" height="33.8" fill="#f23645" opacity="0.85"/>
<rect x="918.5" y="202.1" width="10.0" height="19.9" fill="#f23645"/>
<rect x="935.6" y="211.9" width="1" height="27.8" fill="#f23645" opacity="0.85"/>
<rect x="931.1" y="221.3" width="10.0" height="17.1" fill="#f23645"/>
<rect x="948.2" y="206.4" width="1" height="32.0" fill="#0b9981" opacity="0.85"/>
<rect x="943.7" y="206.4" width="10.0" height="32.0" fill="#0b9981"/>
<rect x="960.8" y="184.2" width="1" height="29.0" fill="#0b9981" opacity="0.85"/>
<rect x="956.3" y="188.7" width="10.0" height="18.2" fill="#0b9981"/>
<rect x="973.4" y="138.8" width="1" height="64.3" fill="#0b9981" opacity="0.85"/>
<rect x="968.9" y="178.7" width="10.0" height="10.5" fill="#0b9981"/>
<rect x="986.0" y="148.0" width="1" height="47.6" fill="#0b9981" opacity="0.85"/>
<rect x="981.5" y="150.2" width="10.0" height="28.6" fill="#0b9981"/>
<rect x="998.6" y="112.5" width="1" height="48.0" fill="#0b9981" opacity="0.85"/>
<rect x="994.1" y="114.6" width="10.0" height="35.7" fill="#0b9981"/>
<rect x="1011.2" y="93.6" width="1" height="39.1" fill="#0b9981" opacity="0.85"/>
<rect x="1006.7" y="104.9" width="10.0" height="10.1" fill="#0b9981"/>
<rect x="1023.8" y="76.0" width="1" height="28.9" fill="#0b9981" opacity="0.85"/>
<rect x="1019.3" y="91.9" width="10.0" height="13.0" fill="#0b9981"/>
<rect x="1036.4" y="87.3" width="1" height="51.7" fill="#f23645" opacity="0.85"/>
<rect x="1031.9" y="91.9" width="10.0" height="47.1" fill="#f23645"/>
<rect x="1049.0" y="139.0" width="1" height="25.2" fill="#f23645" opacity="0.85"/>
<rect x="1044.5" y="139.0" width="10.0" height="15.5" fill="#f23645"/>
<rect x="1061.6" y="144.0" width="1" height="38.6" fill="#f23645" opacity="0.85"/>
<rect x="1057.1" y="153.2" width="10.0" height="23.1" fill="#f23645"/>
<rect x="1074.2" y="169.2" width="1" height="112.6" fill="#f23645" opacity="0.85"/>
<rect x="1069.7" y="176.3" width="10.0" height="66.4" fill="#f23645"/>
<rect x="1086.8" y="241.4" width="1" height="45.4" fill="#f23645" opacity="0.85"/>
<rect x="1082.3" y="241.4" width="10.0" height="29.9" fill="#f23645"/>
<rect x="1099.4" y="251.9" width="1" height="43.3" fill="#0b9981" opacity="0.85"/>
<rect x="1094.9" y="270.4" width="10.0" height="1.3" fill="#0b9981"/>
<rect x="1112.0" y="249.8" width="1" height="37.0" fill="#0b9981" opacity="0.85"/>
<rect x="1107.5" y="256.6" width="10.0" height="14.7" fill="#0b9981"/>
<rect x="1124.6" y="236.4" width="1" height="28.6" fill="#0b9981" opacity="0.85"/>
<rect x="1120.1" y="242.7" width="10.0" height="14.7" fill="#0b9981"/>
<rect x="1137.2" y="227.2" width="1" height="26.0" fill="#0b9981" opacity="0.85"/>
<rect x="1132.7" y="235.1" width="10.0" height="8.4" fill="#0b9981"/>
<rect x="1149.8" y="226.3" width="1" height="15.1" fill="#f23645" opacity="0.85"/>
<rect x="1145.3" y="235.1" width="10.0" height="3.0" fill="#f23645"/>
<rect x="1162.4" y="231.0" width="1" height="16.7" fill="#0b9981" opacity="0.85"/>
<rect x="1157.9" y="233.9" width="10.0" height="4.2" fill="#0b9981"/>
<rect x="1175.0" y="231.5" width="1" height="59.5" fill="#f23645" opacity="0.85"/>
<rect x="1170.5" y="234.2" width="10.0" height="53.6" fill="#f23645"/>
<rect x="1187.6" y="271.0" width="1" height="33.9" fill="#0b9981" opacity="0.85"/>
<rect x="1183.1" y="279.5" width="10.0" height="8.2" fill="#0b9981"/>
<rect x="1200.2" y="277.5" width="1" height="26.5" fill="#f23645" opacity="0.85"/>
<rect x="1195.7" y="279.2" width="10.0" height="10.6" fill="#f23645"/>
<rect x="1212.8" y="273.2" width="1" height="23.9" fill="#0b9981" opacity="0.85"/>
<rect x="1208.3" y="287.1" width="10.0" height="2.7" fill="#0b9981"/>
<rect x="1225.4" y="269.2" width="1" height="20.3" fill="#0b9981" opacity="0.85"/>
<rect x="1220.9" y="282.2" width="10.0" height="5.8" fill="#0b9981"/>
<rect x="1238.0" y="269.8" width="1" height="15.5" fill="#0b9981" opacity="0.85"/>
<rect x="1233.5" y="278.9" width="10.0" height="3.9" fill="#0b9981"/>
<rect x="1250.6" y="276.2" width="1" height="11.8" fill="#0b9981" opacity="0.85"/>
<rect x="1246.1" y="277.7" width="10.0" height="1.0" fill="#0b9981"/>
<rect x="1263.2" y="276.8" width="1" height="16.0" fill="#f23645" opacity="0.85"/>
<rect x="1258.7" y="278.0" width="10.0" height="8.8" fill="#f23645"/>
<rect x="1275.8" y="274.1" width="1" height="12.4" fill="#0b9981" opacity="0.85"/>
<rect x="1271.3" y="274.1" width="10.0" height="12.4" fill="#0b9981"/>
<rect x="1288.4" y="272.3" width="1" height="6.6" fill="#f23645" opacity="0.85"/>
<rect x="1283.9" y="274.4" width="10.0" height="3.0" fill="#f23645"/>
<rect x="1301.0" y="274.4" width="1" height="6.3" fill="#f23645" opacity="0.85"/>
<rect x="1296.5" y="276.2" width="10.0" height="2.1" fill="#f23645"/>
<rect x="1313.6" y="277.4" width="1" height="13.6" fill="#f23645" opacity="0.85"/>
<rect x="1309.1" y="277.4" width="10.0" height="9.1" fill="#f23645"/>
<rect x="1326.2" y="278.3" width="1" height="13.6" fill="#0b9981" opacity="0.85"/>
<rect x="1321.7" y="279.8" width="10.0" height="6.7" fill="#0b9981"/>
<rect x="1338.8" y="266.2" width="1" height="13.6" fill="#0b9981" opacity="0.85"/>
<rect x="1334.3" y="266.2" width="10.0" height="13.6" fill="#0b9981"/>
<circle cx="16.3" cy="318.8" r="2.2" fill="#f0842a"/>
<circle cx="28.9" cy="322" r="2.2" fill="#f0842a"/>
<circle cx="41.5" cy="325" r="2.2" fill="#f0842a"/>
<circle cx="54.1" cy="328" r="2.2" fill="#f0842a"/>
<circle cx="66.7" cy="331.2" r="2.2" fill="#f0842a"/>
<circle cx="79.3" cy="333.6" r="2.2" fill="#f0842a"/>
<circle cx="91.9" cy="336.6" r="2.2" fill="#f0842a"/>
<circle cx="104.5" cy="339.8" r="2.2" fill="#f0842a"/>
<circle cx="117.1" cy="341.9" r="2.2" fill="#f0842a"/>
<circle cx="129.7" cy="344.9" r="2.2" fill="#f0842a"/>
<circle cx="142.3" cy="347.6" r="2.2" fill="#f0842a"/>
<circle cx="154.9" cy="349.7" r="2.2" fill="#f0842a"/>
<circle cx="167.5" cy="353" r="2.2" fill="#f0842a"/>
<circle cx="180.1" cy="355.1" r="2.2" fill="#f0842a"/>
<circle cx="192.7" cy="357.5" r="2.2" fill="#f0842a"/>
<circle cx="205.3" cy="359.7" r="2.2" fill="#f0842a"/>
<circle cx="217.9" cy="362.3" r="2.2" fill="#f0842a"/>
<circle cx="230.5" cy="364.6" r="2.2" fill="#f0842a"/>
<circle cx="243.1" cy="366.8" r="2.2" fill="#f0842a"/>
<circle cx="255.7" cy="369.2" r="2.2" fill="#f0842a"/>
<circle cx="280.9" cy="466.6" r="2.2" fill="#33abea"/>
<circle cx="293.5" cy="464" r="2.2" fill="#33abea"/>
<circle cx="306.1" cy="461" r="2.2" fill="#33abea"/>
<circle cx="318.7" cy="458.9" r="2.2" fill="#33abea"/>
<circle cx="331.3" cy="456.4" r="2.2" fill="#33abea"/>
<circle cx="343.9" cy="454" r="2.2" fill="#33abea"/>
<circle cx="356.5" cy="451.8" r="2.2" fill="#33abea"/>
<circle cx="369.1" cy="448.7" r="2.2" fill="#33abea"/>
<circle cx="381.7" cy="445.7" r="2.2" fill="#33abea"/>
<circle cx="394.3" cy="443.3" r="2.2" fill="#33abea"/>
<circle cx="406.9" cy="439.4" r="2.2" fill="#33abea"/>
<circle cx="419.5" cy="436" r="2.2" fill="#33abea"/>
<circle cx="432.1" cy="433.1" r="2.2" fill="#33abea"/>
<circle cx="444.7" cy="428.8" r="2.2" fill="#33abea"/>
<circle cx="457.3" cy="426" r="2.2" fill="#33abea"/>
<circle cx="469.9" cy="422.9" r="2.2" fill="#33abea"/>
<circle cx="482.5" cy="419.8" r="2.2" fill="#33abea"/>
<circle cx="495.1" cy="416.8" r="2.2" fill="#33abea"/>
<circle cx="507.7" cy="413.7" r="2.2" fill="#33abea"/>
<circle cx="520.3" cy="410.2" r="2.2" fill="#33abea"/>
<circle cx="532.9" cy="408" r="2.2" fill="#33abea"/>
<circle cx="545.5" cy="405" r="2.2" fill="#33abea"/>
<circle cx="558.1" cy="402.6" r="2.2" fill="#33abea"/>
<circle cx="570.7" cy="399.7" r="2.2" fill="#33abea"/>
<circle cx="583.3" cy="397.1" r="2.2" fill="#33abea"/>
<circle cx="595.9" cy="394.3" r="2.2" fill="#33abea"/>
<circle cx="608.5" cy="391.9" r="2.2" fill="#33abea"/>
<circle cx="621.1" cy="389" r="2.2" fill="#33abea"/>
<circle cx="633.7" cy="386.2" r="2.2" fill="#33abea"/>
<circle cx="646.3" cy="383.4" r="2.2" fill="#33abea"/>
<circle cx="658.9" cy="379.9" r="2.2" fill="#33abea"/>
<circle cx="671.5" cy="377" r="2.2" fill="#33abea"/>
<circle cx="684.1" cy="374.8" r="2.2" fill="#33abea"/>
<circle cx="696.7" cy="371.8" r="2.2" fill="#33abea"/>
<circle cx="709.3" cy="368.5" r="2.2" fill="#33abea"/>
<circle cx="721.9" cy="364.5" r="2.2" fill="#33abea"/>
<circle cx="734.5" cy="360" r="2.2" fill="#33abea"/>
<circle cx="747.1" cy="354.6" r="2.2" fill="#33abea"/>
<circle cx="759.7" cy="349.6" r="2.2" fill="#33abea"/>
<circle cx="772.3" cy="344.2" r="2.2" fill="#33abea"/>
<circle cx="784.9" cy="339.8" r="2.2" fill="#33abea"/>
<circle cx="797.5" cy="335.1" r="2.2" fill="#33abea"/>
<circle cx="810.1" cy="329.6" r="2.2" fill="#33abea"/>
<circle cx="822.7" cy="325.9" r="2.2" fill="#33abea"/>
<circle cx="835.3" cy="321.2" r="2.2" fill="#33abea"/>
<circle cx="847.9" cy="316.5" r="2.2" fill="#33abea"/>
<circle cx="860.5" cy="312.7" r="2.2" fill="#33abea"/>
<circle cx="873.1" cy="308" r="2.2" fill="#33abea"/>
<circle cx="885.7" cy="303.8" r="2.2" fill="#33abea"/>
<circle cx="898.3" cy="300" r="2.2" fill="#33abea"/>
<circle cx="910.9" cy="296.2" r="2.2" fill="#33abea"/>
<circle cx="923.5" cy="292.2" r="2.2" fill="#33abea"/>
<circle cx="936.1" cy="288.5" r="2.2" fill="#33abea"/>
<circle cx="948.7" cy="285.2" r="2.2" fill="#33abea"/>
<circle cx="961.3" cy="281.6" r="2.2" fill="#33abea"/>
<circle cx="973.9" cy="278.1" r="2.2" fill="#33abea"/>
<circle cx="986.5" cy="274.4" r="2.2" fill="#33abea"/>
<circle cx="999.1" cy="271.3" r="2.2" fill="#33abea"/>
<circle cx="1011.7" cy="267.5" r="2.2" fill="#33abea"/>
<circle cx="1024.3" cy="263.7" r="2.2" fill="#33abea"/>
<circle cx="1036.9" cy="259.1" r="2.2" fill="#33abea"/>
<circle cx="1049.5" cy="254.9" r="2.2" fill="#33abea"/>
<circle cx="1062.1" cy="250.3" r="2.2" fill="#33abea"/>
<circle cx="1087.3" cy="79.7" r="2.2" fill="#f0842a"/>
<circle cx="1099.9" cy="84.8" r="2.2" fill="#f0842a"/>
<circle cx="1112.5" cy="88.6" r="2.2" fill="#f0842a"/>
<circle cx="1125.1" cy="92.8" r="2.2" fill="#f0842a"/>
<circle cx="1137.7" cy="97" r="2.2" fill="#f0842a"/>
<circle cx="1150.3" cy="100.7" r="2.2" fill="#f0842a"/>
<circle cx="1162.9" cy="104.5" r="2.2" fill="#f0842a"/>
<circle cx="1175.5" cy="108.3" r="2.2" fill="#f0842a"/>
<circle cx="1188.1" cy="112.1" r="2.2" fill="#f0842a"/>
<circle cx="1200.7" cy="115.9" r="2.2" fill="#f0842a"/>
<circle cx="1213.3" cy="119.6" r="2.2" fill="#f0842a"/>
<circle cx="1225.9" cy="123.4" r="2.2" fill="#f0842a"/>
<circle cx="1238.5" cy="127.1" r="2.2" fill="#f0842a"/>
<circle cx="1251.1" cy="130.9" r="2.2" fill="#f0842a"/>
<circle cx="1263.7" cy="133.9" r="2.2" fill="#f0842a"/>
<circle cx="1276.3" cy="137" r="2.2" fill="#f0842a"/>
<circle cx="1288.9" cy="141.2" r="2.2" fill="#f0842a"/>
<circle cx="1301.5" cy="144.2" r="2.2" fill="#f0842a"/>
<circle cx="1314.1" cy="147.6" r="2.2" fill="#f0842a"/>
<circle cx="1326.7" cy="150.6" r="2.2" fill="#f0842a"/>
<circle cx="1339.3" cy="152.7" r="2.2" fill="#f0842a"/>
<path d="M331.0,404.1 L335.0,408.8 L331.0,413.5 L327.0,408.8 Z" fill="#0d2a44" stroke="#3aa5dc" stroke-width="1.2"/><path d="M331.0,406.3 L333.3,408.8 L331.0,411.3 L328.7,408.8 Z" fill="#31aef0"/>
<path d="M1187.7,161.70000000000002 L1191.7,166.4 L1187.7,171.1 L1183.7,166.4 Z" fill="#3a200c" stroke="#e07a28" stroke-width="1.2"/><path d="M1187.7,163.9 L1190.0,166.4 L1187.7,168.9 L1185.4,166.4 Z" fill="#f08428"/>
<path d="M230.8,428.4 L240.5,439.79999999999995 L236.0,439.79999999999995 L236.0,449.79999999999995 L225.60000000000002,449.79999999999995 L225.60000000000002,439.79999999999995 L221.10000000000002,439.79999999999995 Z" fill="#ffffff"/>
<path d="M608.3,420.6 L618.0,432.0 L613.5,432.0 L613.5,442.0 L603.0999999999999,442.0 L603.0999999999999,432.0 L598.5999999999999,432.0 Z" fill="#ffffff"/>
</g></svg></div>
<div class="abs" id="topw1"></div><div class="abs" id="topg"></div><div class="abs" id="topw2"></div>
<div class="abs" id="hdr">VanHe1sing created with TradingView.com, Oct 06, 2025 12:38 UTC+3</div>
<div class="abs lg" id="lg1" style="top:37px;transform:scaleX(0.918)">BTCUSD · 3h · INDEX</div>
<div class="abs lg" id="lg2" style="top:53px">RSI-Adaptive T3 and SAR Confluence Strategy [PrimeAutomation]</div>
<div class="abs" id="paxis" style="left:0;top:29px;width:1410px;height:476px;overflow:hidden"><div style="position:absolute;left:0;top:-29px"><div class="pl" style="top:74.6px">124,000.00</div><div class="pl" style="top:106.1px">123,000.00</div><div class="pl" style="top:137.3px">122,000.00</div><div class="pl" style="top:231.1px">119,000.00</div><div class="pl" style="top:289.3px">117,200.00</div><div class="pl" style="top:315.2px">116,400.00</div><div class="pl" style="top:341.2px">115,600.00</div><div class="pl" style="top:365.2px">114,850.00</div><div class="pl" style="top:392.0px">114,050.00</div><div class="pl" style="top:418.9px">113,250.00</div><div class="pl" style="top:445.6px">112,450.00</div><div class="pl" style="top:472.6px">111,650.00</div><div class="pl" style="top:497.9px">110,930.00</div></div></div>
<div class="dl" style="left:84px">5</div><div class="dl" style="left:185px">6</div><div class="dl" style="left:286px">7</div><div class="dl" style="left:387px">8</div><div class="dl" style="left:488px">9</div><div class="dl" style="left:588.5px">10</div><div class="dl b" style="left:689.5px">11</div><div class="dl" style="left:790px">12</div><div class="dl" style="left:891px">13</div><div class="dl" style="left:992px">14</div><div class="dl" style="left:1092.5px">15</div><div class="dl" style="left:1193.5px">16</div><div class="dl" style="left:1294.2px">17</div>
<div class="abs" id="usd"><span>USD</span></div>
<div class="abs" id="cur"><b>123,879.12</b><i>02:21:39</i></div>
<div class="box" style="top:146.4px;border-color:#c46a24;color:#e8771a">121,659.22</div>
<div class="box" style="top:162.2px;border-color:#c9ccd3;color:#f0f0f0">121,167.54</div>
<div class="box" style="top:183px;border-color:#c46a24;color:#e8771a">120,496.06</div>
<div class="box" style="top:197.5px;border-color:#c46a24;color:#e8771a">120,244.20</div>
<div class="box" style="top:259.1px;border-color:#0b8a75;color:#0fa88e">118,103.69</div>
<div class="abs" id="sl"><div class="t">Stop Loss Length</div><div class="in"><span>10</span></div></div>
<div class="abs" id="foot"></div>
<svg class="abs" style="left:0;top:545px" width="48" height="30" viewBox="0 545 48 30"><g fill="#e3e3e3">
<path d="M12,552.2 H23.9 V567 H17.8 V558.2 H12 Z"/>
<circle cx="29.2" cy="555.3" r="3.1"/>
<path d="M35.2,552.2 H41.4 L35,567 H28.8 Z"/>
</g></svg>
<div class="abs" id="tvt">TradingView</div>
<div class="abs" id="strip"><svg class="abs" style="left:76px;top:0" width="18" height="8"><path d="M1.5,-1 L15.5,-1 L8.5,8 Z" fill="#333"/></svg><div class="abs" id="feat">FEATURES</div></div>
</body></html>
